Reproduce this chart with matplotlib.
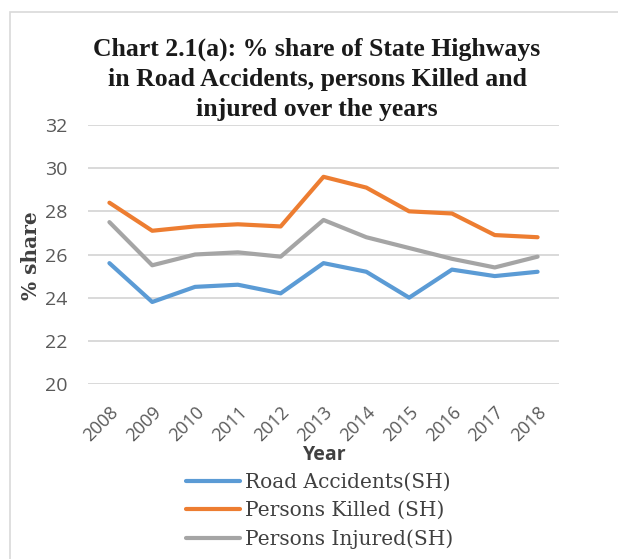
import matplotlib
matplotlib.use("Agg")
import matplotlib.pyplot as plt
from matplotlib.patches import Rectangle

years = ["2008", "2009", "2010", "2011", "2012", "2013", "2014", "2015", "2016", "2017", "2018"]
road_accidents = [25.6, 23.8, 24.5, 24.6, 24.2, 25.6, 25.2, 24.0, 25.3, 25.0, 25.2]
persons_killed = [28.4, 27.1, 27.3, 27.4, 27.3, 29.6, 29.1, 28.0, 27.9, 26.9, 26.8]
persons_injured = [27.5, 25.5, 26.0, 26.1, 25.9, 27.6, 26.8, 26.3, 25.8, 25.4, 25.9]
series_names = ["Road Accidents(SH)", "Persons Killed (SH)", "Persons Injured(SH)"]
y_ticks = [20, 22, 24, 26, 28, 30, 32]

W, H = 618, 559
fig = plt.figure(figsize=(W / 100, H / 100), dpi=100)
fig.patch.set_facecolor("white")

# outer chart frame
fig.patches.append(Rectangle((10 / W, -0.1), 1.2, 1 - 12 / H + 0.1, transform=fig.transFigure,
                             fill=False, edgecolor="#D9D9D9", linewidth=1.2))

ax = fig.add_axes([88 / W, 1 - 384 / H, (559 - 88) / W, (384 - 125) / H])
x = list(range(len(years)))
colors = ["#5B9BD5", "#ED7D31", "#A5A5A5"]
lines = []
for vals, c, name in zip([road_accidents, persons_killed, persons_injured], colors, series_names):
    l, = ax.plot(x, vals, color=c, linewidth=3.0, solid_capstyle="round", solid_joinstyle="round", label=name)
    lines.append(l)

ax.set_xlim(-0.5, len(years) - 0.5)
ax.set_ylim(20, 32)
ax.set_yticks(y_ticks)
ax.set_xticks(x)
ax.set_xticklabels(years, rotation=45, ha="right", va="top", rotation_mode="anchor")
ax.grid(axis="y", color="#D9D9D9", linewidth=1.4)
ax.set_axisbelow(True)
for s in ax.spines.values():
    s.set_visible(False)
ax.tick_params(axis="both", length=0, colors="#595959")
ax.tick_params(axis="y", pad=15, labelsize=14)
ax.tick_params(axis="x", pad=14, labelsize=13)
for t in ax.get_xticklabels() + ax.get_yticklabels():
    t.set_fontfamily("Open Sans")
    t.set_color("#595959")

fig.text(317 / W, 1 - 79 / H,
         "Chart 2.1(a): % share of State Highways\nin Road Accidents, persons Killed and\ninjured over the years",
         ha="center", va="center", family="Liberation Serif", weight="bold", fontsize=18.5,
         linespacing=1.4, color="#1a1a1a")

fig.text(325 / W, 1 - 455 / H, "Year", ha="center", va="center", family="Open Sans",
         weight="bold", fontsize=14, color="#404040")
fig.text(31 / W, 1 - 256 / H, "% share", ha="center", va="center", rotation=90,
         family="DejaVu Serif", weight="bold", fontsize=14.5, color="#404040")

leg = fig.legend(handles=lines, labels=series_names, loc="center left",
                 bbox_to_anchor=(186 / W, 1 - 511 / H), frameon=False,
                 prop={"family": "DejaVu Serif", "size": 14.5}, handlelength=2.7,
                 handletextpad=0.25, labelspacing=0.45, borderaxespad=0, borderpad=0)
for t in leg.get_texts():
    t.set_color("#404040")

fig.savefig("out.png", dpi=100, facecolor="white")
